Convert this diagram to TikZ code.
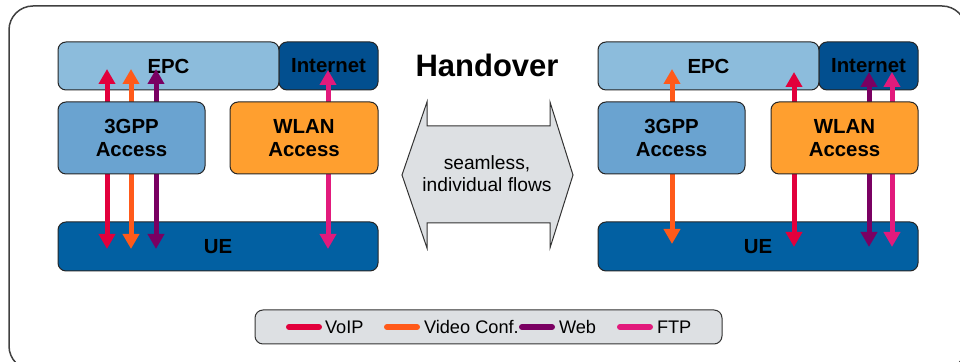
\documentclass[tikz,border=0pt]{standalone}
\usepackage{fontspec}
\setmainfont{Liberation Sans}
\usetikzlibrary{arrows.meta,positioning}

\definecolor{epcblue}{HTML}{8CBCDC}
\definecolor{netblue}{HTML}{024F8F}
\definecolor{gppblue}{HTML}{6AA3D0}
\definecolor{wlanorange}{HTML}{FF9F2F}
\definecolor{ueblue}{HTML}{0260A2}
\definecolor{panelgray}{HTML}{DDE0E3}
\definecolor{voipred}{HTML}{E2003C}
\definecolor{videoorange}{HTML}{FF5A1A}
\definecolor{webpurple}{HTML}{7A0062}
\definecolor{ftppink}{HTML}{E21A7C}

\tikzset{
  box/.style={draw=black!85, line width=0.5pt, rounded corners=4pt, align=center,
              font=\fontsize{10.2}{11.5}\selectfont\bfseries, inner sep=0pt},
  flow/.style={<->, line width=2.5pt, >={Triangle[length=7.5pt,width=8pt]}},
  key/.style={line width=3pt, line cap=round},
  keytext/.style={anchor=west, inner sep=0pt, font=\fontsize{9.1}{10}\selectfont}
}

\begin{document}
\begin{tikzpicture}[x=0.5pt,y=-0.5pt]
            \useasboundingbox (0,0) rectangle (960,362);
            \draw[black!75, line width=0.75pt, rounded corners=12pt] (9,6) rectangle (966,370);

            % left side, before handover
            \node[box, fill=epcblue, minimum width=110.5pt, minimum height=24pt] (epc_l) at (168.5,66) {EPC};
            \node[box, fill=netblue, minimum width=49.5pt, minimum height=24pt] (net_l) at (328.5,66) {Internet};
            \node[box, fill=ueblue, minimum width=160pt, minimum height=24.5pt] (ue_l) at (218,246.5) {UE};

            \coordinate (voip_l1) at (107,69);  \coordinate (voip_l2) at (107,249);
            \coordinate (video_l1) at (131,69); \coordinate (video_l2) at (131,249);
            \coordinate (web_l1) at (156,69);   \coordinate (web_l2) at (156,249);
            \coordinate (ftp_l1) at (328,70);   \coordinate (ftp_l2) at (328,249);

            \path (voip_l1) edge[flow, voipred] (voip_l2);
            \path (video_l1) edge[flow, videoorange] (video_l2);
            \path (web_l1) edge[flow, webpurple] (web_l2);
            \path (ftp_l1) edge[flow, ftppink] (ftp_l2);

            \node[box, fill=gppblue, minimum width=73.5pt, minimum height=36pt] (gpp_l) at (131.5,138) {3GPP\\Access};
            \node[box, fill=wlanorange, minimum width=74pt, minimum height=36pt] (wlan_l) at (304,138) {WLAN\\Access};

            % handover in the middle
            \node[font=\fontsize{15.5}{17}\selectfont\bfseries] (handover) at (487,65) {Handover};
            \draw[black!80, line width=0.5pt, fill=panelgray]
              (402,175) -- (427,102) -- (427,126) -- (550,126) -- (550,102) -- (573,175)
              -- (550,248) -- (550,223) -- (427,223) -- (427,248) -- cycle;
            \node[align=center, font=\fontsize{9.6}{11}\selectfont] (flows) at (487,174) {seamless,\\individual flows};

            % right side, after handover
            \node[box, fill=epcblue, minimum width=110.5pt, minimum height=24pt] (epc_r) at (708.5,66) {EPC};
            \node[box, fill=netblue, minimum width=49.5pt, minimum height=24pt] (net_r) at (868.5,66) {Internet};
            \node[box, fill=ueblue, minimum width=160pt, minimum height=24.5pt] (ue_r) at (758,246.5) {UE};

            \coordinate (video_r1) at (672,69); \coordinate (video_r2) at (672,244);
            \coordinate (voip_r1) at (794,72);  \coordinate (voip_r2) at (794,247);
            \coordinate (web_r1) at (869,72);   \coordinate (web_r2) at (869,247);
            \coordinate (ftp_r1) at (892,72);   \coordinate (ftp_r2) at (892,247);

            \path (video_r1) edge[flow, videoorange] (video_r2);
            \path (voip_r1) edge[flow, voipred] (voip_r2);
            \path (web_r1) edge[flow, webpurple] (web_r2);
            \path (ftp_r1) edge[flow, ftppink] (ftp_r2);

            \node[box, fill=gppblue, minimum width=73.5pt, minimum height=36pt] (gpp_r) at (671.5,138) {3GPP\\Access};
            \node[box, fill=wlanorange, minimum width=73.5pt, minimum height=36pt] (wlan_r) at (844.5,138) {WLAN\\Access};

            % legend
            \node[draw=black!80, line width=0.5pt, fill=panelgray, rounded corners=4pt,
                  minimum width=233.5pt, minimum height=17pt] (legend) at (488.5,327) {};
            \draw[key, voipred] (289,327) -- (319,327) node[keytext, black] (voip_txt) at (322,327) {VoIP};
            \draw[key, videoorange] (387,327) -- (417,327) node[keytext, black] (video_txt) at (421,327) {Video Conf.};
            \draw[key, webpurple] (522,327) -- (552,327) node[keytext, black] (web_txt) at (556,327) {Web};
            \draw[key, ftppink] (620,327) -- (650,327) node[keytext, black] (ftp_txt) at (654,327) {FTP};
\end{tikzpicture}
\end{document}
